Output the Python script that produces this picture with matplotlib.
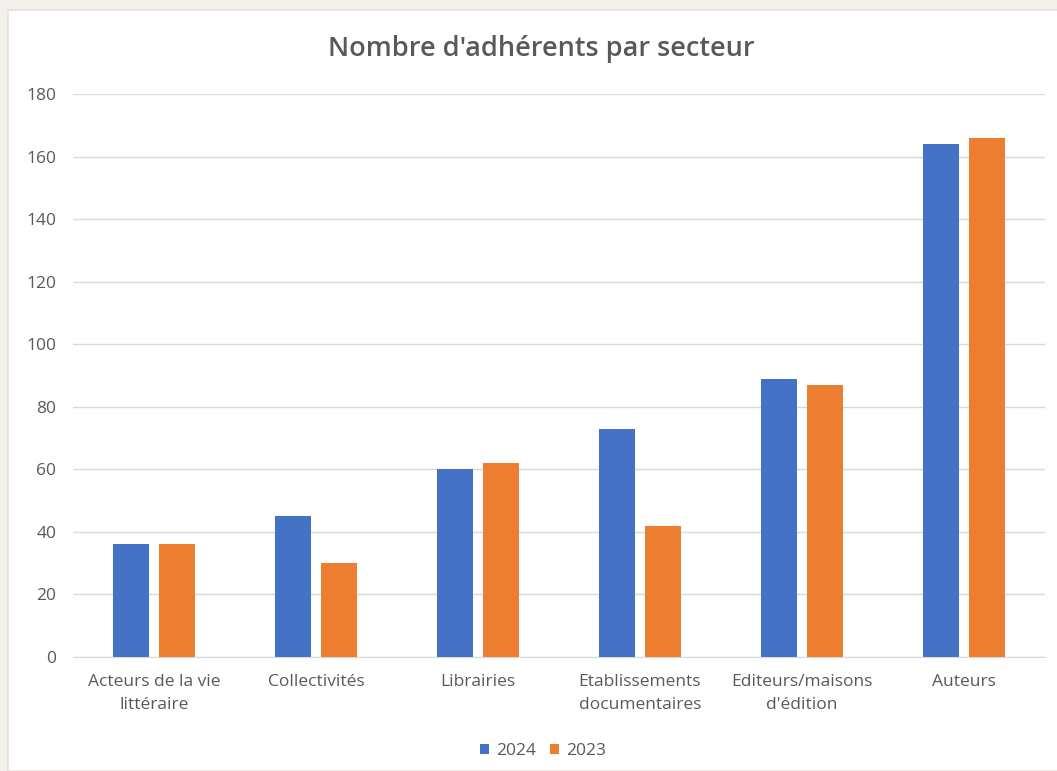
import numpy as np
import matplotlib.pyplot as plt
from matplotlib.patches import Rectangle

categories = ["Acteurs de la vie\nlittéraire", "Collectivités", "Librairies",
              "Etablissements\ndocumentaires", "Editeurs/maisons\nd'édition", "Auteurs"]
values_2024 = [36, 45, 60, 73, 89, 164]
values_2023 = [36, 30, 62, 42, 87, 166]
series_labels = ["2024", "2023"]

plt.rcParams['font.family'] = ['Open Sans', 'DejaVu Sans']
grey = "#595959"

fig = plt.figure(figsize=(10.57, 7.71), dpi=100)
fig.patch.set_facecolor("#f3efeb")
# white chart box, behind the axes
box = Rectangle((8 / 1057, 0), 1.0, 1 - 10 / 771, transform=fig.transFigure,
                facecolor="white", edgecolor="#e6e2de", linewidth=1.2, zorder=-10)
fig.add_artist(box)

ax = fig.add_axes([73 / 1057, 1 - 657 / 771, 972 / 1057, 563 / 771])
ax.set_facecolor("white")

x = np.arange(len(categories))
w = 0.222
ax.bar(x - 0.031 - w / 2, values_2024, w, color="#4472C4", label=series_labels[0], zorder=3)
ax.bar(x + 0.031 + w / 2, values_2023, w, color="#ED7D31", label=series_labels[1], zorder=3)

ax.set_xlim(-0.5, len(categories) - 0.5)
ax.set_ylim(0, 180)
ax.set_yticks(range(0, 181, 20))
ax.set_xticks(x)
ax.set_xticklabels(categories, fontsize=12.5, color=grey, linespacing=1.65)
ax.tick_params(axis="y", labelsize=12.5, labelcolor=grey, length=0, pad=12)
ax.tick_params(axis="x", length=0, pad=12)
ax.grid(axis="y", color="#d9d9d9", linewidth=1, zorder=0)
for s in ["top", "right", "left"]:
    ax.spines[s].set_visible(False)
ax.spines["bottom"].set_color("#d9d9d9")

fig.text(0.512, 1 - 49 / 771, "Nombre d'adhérents par secteur", ha="center", va="center",
         fontsize=19.5, color=grey, fontweight="semibold")

fig.legend(loc="center", bbox_to_anchor=(543 / 1057, 1 - 751 / 771), ncol=2, frameon=False,
           fontsize=12.5, labelcolor=grey, handlelength=0.55, handleheight=0.55,
           handletextpad=0.4, columnspacing=0.8)

fig.savefig("out.png", dpi=100, facecolor=fig.get_facecolor())
